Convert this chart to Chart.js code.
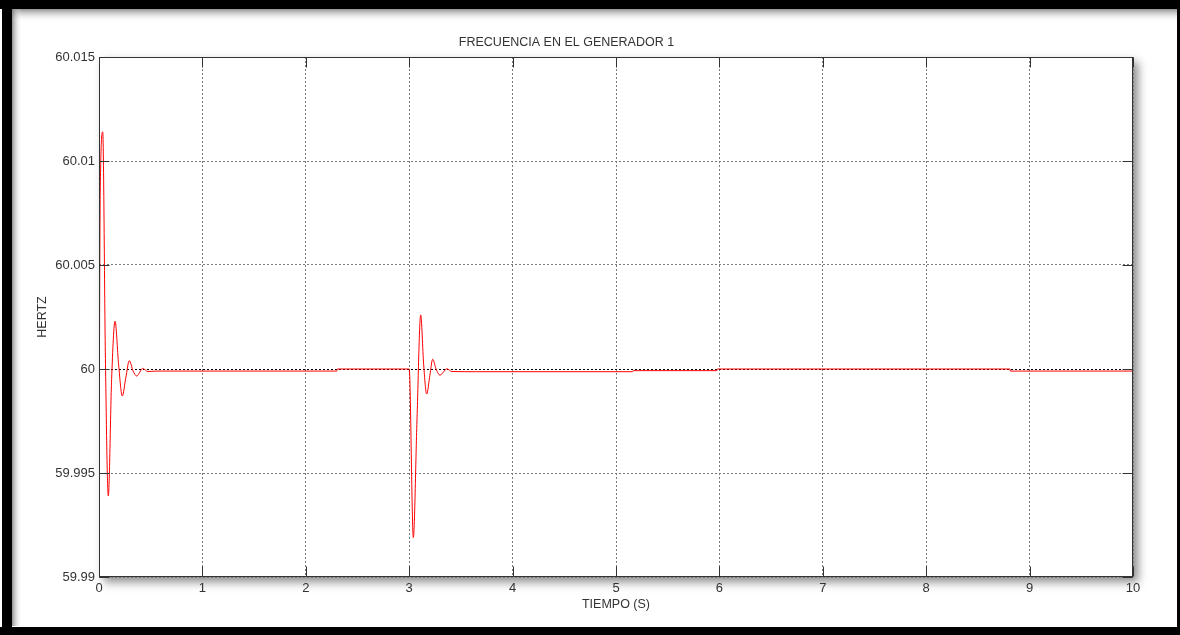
<!DOCTYPE html>
<html>
<head>
<meta charset="utf-8">
<script src="https://cdn.jsdelivr.net/npm/chart.js@4/dist/chart.umd.min.js"></script>
<style>
    html, body { margin: 0; padding: 0; background: #fff; }
    #wrap { width: 1180px; height: 635px; position: relative; }
</style>
</head>
<body>
<div id="wrap"><canvas id="freq-chart"></canvas></div>
<script>
// --- Data ---
const timeS = [0, 0.012, 0.036, 0.062, 0.09, 0.122, 0.155, 0.19, 0.225, 0.26, 0.293, 0.33, 0.365, 0.395, 0.42, 0.474, 0.55,
    2.3, 2.305, 3.0, 3.04, 3.075, 3.111, 3.14, 3.169, 3.2, 3.227, 3.26, 3.298, 3.33, 3.363, 3.414, 3.65,
    5.16, 5.165, 5.975, 5.98, 8.81, 8.815, 10];
const freqHz = [59.9943, 60.0085, 60.0114, 60.0005, 59.9939, 59.9995, 60.0023, 60.0002, 59.9987, 59.9996, 60.0004, 59.9999, 59.99966, 59.99985, 60.00003, 59.99988, 59.9999,
    59.9999, 60, 60, 59.9919, 59.9975, 60.0026, 60.0002, 59.9988, 59.9997, 60.00047, 60.0, 59.9997, 59.99985, 60.00001, 59.99988, 59.99987,
    59.99987, 59.99992, 59.99992, 60, 60, 59.9999, 59.9999];
const xTicks = [0, 1, 2, 3, 4, 5, 6, 7, 8, 9, 10];
const yTicks = [59.99, 59.995, 60, 60.005, 60.01, 60.015];
// ---------------------------------

const FONT = "'Liberation Sans', Arial, sans-serif";
const TEXT = '#333';

// page frame + plot box shadow, drawn before everything else
const framePlugin = {
    id: 'frame',
    beforeDraw(chart) {
        const { ctx, width, height, chartArea: a } = chart;
        ctx.save();
        ctx.fillStyle = '#fff';
        ctx.fillRect(0, 0, width, height);

        // inset shadow along top and left edges
        let g = ctx.createLinearGradient(0, 9, 0, 22);
        g.addColorStop(0, 'rgba(120,120,120,0.8)');
        g.addColorStop(1, 'rgba(255,255,255,0)');
        ctx.fillStyle = g;
        ctx.fillRect(12, 9, width - 15, 13);
        g = ctx.createLinearGradient(12, 0, 22, 0);
        g.addColorStop(0, 'rgba(120,120,120,0.8)');
        g.addColorStop(1, 'rgba(255,255,255,0)');
        ctx.fillStyle = g;
        ctx.fillRect(12, 9, 10, height - 18);

        // black frame
        ctx.fillStyle = '#000';
        ctx.fillRect(0, 0, width, 9);
        ctx.fillRect(2, 0, 10, height);
        ctx.fillRect(0, 627, width, height - 627);
        ctx.fillRect(1177, 0, 3, height);

        // plot box drop shadow
        ctx.shadowColor = 'rgba(0,0,0,0.45)';
        ctx.shadowBlur = 9;
        ctx.shadowOffsetX = 5;
        ctx.shadowOffsetY = 5;
        ctx.fillStyle = '#fff';
        ctx.fillRect(a.left, a.top, a.right - a.left, a.bottom - a.top);
        ctx.restore();
    },
    afterDraw(chart) {
        const { ctx, chartArea: a, scales } = chart;
        const L = Math.round(a.left) + 0.5, R = Math.round(a.right) - 0.5;
        const T = Math.round(a.top) + 0.5, B = Math.round(a.bottom) - 0.5;
        ctx.save();
        ctx.strokeStyle = '#333';
        ctx.lineWidth = 1;
        ctx.beginPath();
        // inward tick marks
        xTicks.forEach(v => {
            const x = Math.round(scales.x.getPixelForValue(v)) + 0.5;
            ctx.moveTo(x, B); ctx.lineTo(x, B - 10);
            ctx.moveTo(x, T); ctx.lineTo(x, T + 10);
        });
        yTicks.forEach(v => {
            const y = Math.round(scales.y.getPixelForValue(v)) + 0.5;
            ctx.moveTo(L, y); ctx.lineTo(L + 10, y);
            ctx.moveTo(R, y); ctx.lineTo(R - 10, y);
        });
        ctx.stroke();
        ctx.strokeRect(L, T, R - L, B - T);
        ctx.restore();
    }
};

const ctx = document.getElementById('freq-chart').getContext('2d');
new Chart(ctx, {
    type: 'line',
    data: {
        datasets: [{
            data: timeS.map((t, i) => ({ x: t, y: freqHz[i] })),
            borderColor: '#ff0000',
            borderWidth: 1,
            pointRadius: 0,
            fill: false,
            cubicInterpolationMode: 'monotone'
        }]
    },
    options: {
        responsive: true,
        maintainAspectRatio: false,
        animation: false,
        layout: { padding: { left: 0, right: 47, top: 0, bottom: 0 } },
        plugins: {
            legend: { display: false },
            tooltip: { enabled: false },
            title: {
                display: true,
                text: 'FRECUENCIA EN EL GENERADOR 1',
                color: TEXT,
                font: { family: FONT, size: 12.5, weight: 'normal' },
                padding: { top: 34.6, bottom: 7.4 }
            }
        },
        scales: {
            x: {
                type: 'linear',
                min: 0,
                max: 10,
                afterBuildTicks: s => { s.ticks = xTicks.map(v => ({ value: v })); },
                afterFit: s => { s.height = 58; },
                ticks: { color: TEXT, font: { family: FONT, size: 13 }, padding: 4, maxRotation: 0 },
                grid: {
                    color: '#7a7a7a',
                    lineWidth: 1,
                    drawTicks: false
                },
                border: { display: false, dash: [2, 2] },
                title: {
                    display: true,
                    text: 'TIEMPO (S)',
                    color: TEXT,
                    font: { family: FONT, size: 12.5 },
                    padding: { top: 0, bottom: 23 }
                }
            },
            y: {
                type: 'linear',
                min: 59.99,
                max: 60.015,
                afterBuildTicks: s => { s.ticks = yTicks.map(v => ({ value: v })); },
                afterFit: s => { s.width = 99; },
                ticks: {
                    color: TEXT,
                    font: { family: FONT, size: 13 },
                    padding: 4,
                    callback: v => String(v)
                },
                grid: {
                    color: c => (c.tick && c.tick.value === 60 ? '#000' : '#7a7a7a'),
                    lineWidth: 1,
                    drawTicks: false
                },
                border: { display: false, dash: [2, 2] },
                title: {
                    display: true,
                    text: 'HERTZ',
                    color: TEXT,
                    font: { family: FONT, size: 12.5 },
                    padding: { top: 35, bottom: 0 }
                }
            }
        }
    },
    plugins: [framePlugin]
});
</script>
</body>
</html>
